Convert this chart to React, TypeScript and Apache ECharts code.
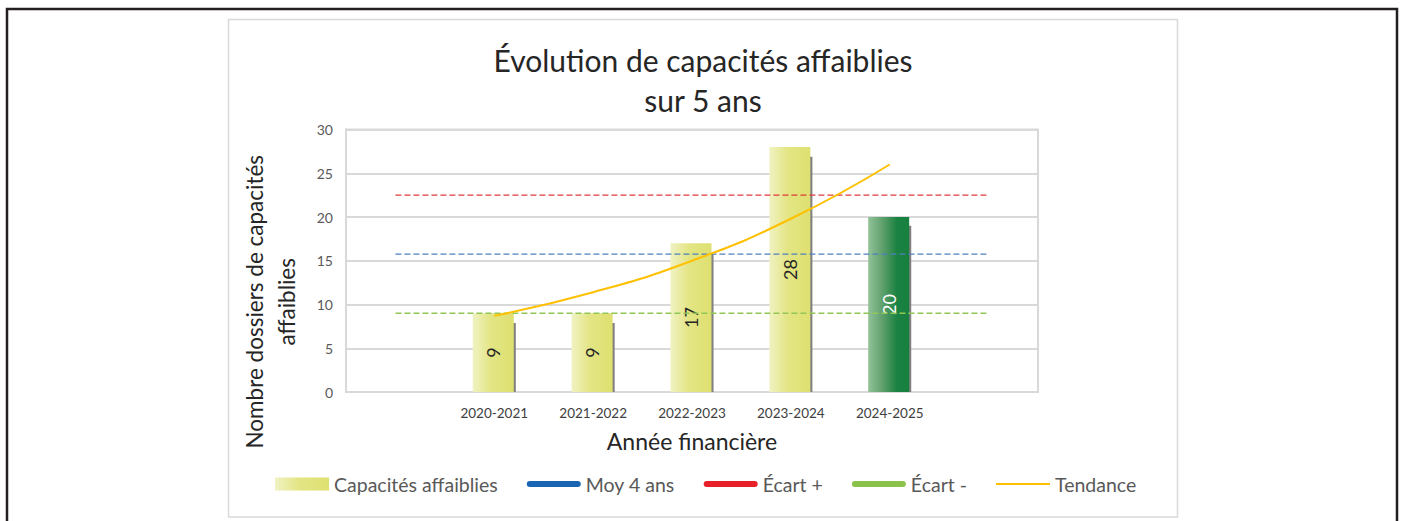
import React, { useEffect, useRef } from 'react';
import * as echarts from 'echarts';

// Categories (blank slots at both ends, as in the original Excel chart)
const categories = ['', '2020-2021', '2021-2022', '2022-2023', '2023-2024', '2024-2025', ''];
// Number of files per financial year
const capacites = [null, 9, 9, 17, 28, 20, null];
// Top of the grey drop-shadow under each bar
const ombre = [null, 7.9, 7.9, 15.9, 26.9, 19.0, null];
// Reference lines
const moy4 = [15.75, 15.75, 15.75, 15.75, 15.75, 15.75, 15.75];
const ecartPlus = [22.5, 22.5, 22.5, 22.5, 22.5, 22.5, 22.5];
const ecartMoins = [9, 9, 9, 9, 9, 9, 9];
// Exponential trend line values
const tendance = [null, 8.7, 11.4, 15.0, 19.8, 26.0, null];

const FONT = 'Lato';

const yellowGrad = () =>
  new echarts.graphic.LinearGradient(0, 0, 1, 0, [
    { offset: 0, color: '#F0F2C2' },
    { offset: 0.45, color: '#E3E584' },
    { offset: 1, color: '#DEE070' },
  ]);
const greenGrad = () =>
  new echarts.graphic.LinearGradient(0, 0, 1, 0, [
    { offset: 0, color: '#92C29A' },
    { offset: 0.35, color: '#5FA06C' },
    { offset: 0.7, color: '#1A8242' },
    { offset: 1, color: '#17803F' },
  ]);

const thickIcon = 'path://M3,0 H51 A3,3 0 0 1 51,6 H3 A3,3 0 0 1 3,0 Z';
const thinIcon = 'path://M0,0 H54 V2 H0 Z';

export default function App() {
  const ref = useRef<HTMLDivElement>(null);

  useEffect(() => {
    if (!ref.current) return;
    const chart = echarts.init(ref.current, null, { renderer: 'svg' });
    const highlightIndex = 5;

    chart.setOption({
      animation: false,
      backgroundColor: '#ffffff',
      textStyle: { fontFamily: FONT },
      title: {
        text: 'Évolution de capacités affaiblies\nsur 5 ans',
        left: 703,
        textAlign: 'center',
        top: 40,
        padding: 0,
        textStyle: {
          fontFamily: FONT,
          fontSize: 30,
          fontWeight: 'normal',
          color: '#262626',
          lineHeight: 40,
        },
      },
      graphic: [
        {
          type: 'rect',
          z: -10,
          silent: true,
          shape: { x: 7, y: 9, width: 1390, height: 600 },
          style: { fill: 'none', stroke: '#231F20', lineWidth: 2.5 },
        },
        {
          type: 'rect',
          z: -10,
          silent: true,
          shape: { x: 228.5, y: 19.5, width: 949, height: 497.5 },
          style: { fill: 'none', stroke: '#D9D9D9', lineWidth: 1.5 },
        },
      ],
      legend: {
        left: 275,
        top: 474,
        padding: 0,
        itemWidth: 54,
        itemHeight: 13,
        itemGap: 29,
        symbolKeepAspect: true,
        itemStyle: { borderWidth: 0 },
        textStyle: { fontFamily: FONT, fontSize: 19.5, color: '#595959' },
        data: [
          { name: 'Capacités affaiblies', icon: 'rect' },
          { name: 'Moy 4 ans', icon: thickIcon, itemStyle: { color: '#1A64B4', borderWidth: 0 } },
          { name: 'Écart +', icon: thickIcon, itemStyle: { color: '#E8202A', borderWidth: 0 } },
          { name: 'Écart -', icon: thickIcon, itemStyle: { color: '#8BC34A', borderWidth: 0 } },
          { name: 'Tendance', icon: thinIcon, itemStyle: { color: '#FFC000', borderWidth: 0 } },
        ],
      },
      grid: {
        left: 346,
        right: 363,
        top: 129.5,
        bottom: 129,
        show: true,
        borderColor: '#D9D9D9',
        borderWidth: 2,
        containLabel: false,
      },
      xAxis: {
        type: 'category',
        data: categories,
        boundaryGap: true,
        axisTick: { show: false },
        axisLine: { lineStyle: { color: '#D9D9D9', width: 2 } },
        axisLabel: { fontFamily: FONT, fontSize: 13.5, color: '#404040', margin: 14, interval: 0 },
        name: 'Année financière',
        nameLocation: 'middle',
        nameGap: 37,
        nameTextStyle: { fontFamily: FONT, fontSize: 23, color: '#262626' },
      },
      yAxis: {
        type: 'value',
        min: 0,
        max: 30,
        interval: 5,
        axisLine: { show: true, lineStyle: { color: '#D9D9D9', width: 2 } },
        axisTick: { show: false },
        axisLabel: { fontFamily: FONT, fontSize: 14, color: '#595959', margin: 13 },
        splitLine: { lineStyle: { color: '#D9D9D9', width: 2 } },
        name: 'Nombre dossiers de capacités\naffaiblies',
        nameLocation: 'middle',
        nameGap: 44,
        nameTextStyle: {
          fontFamily: FONT,
          fontSize: 22.5,
          color: '#262626',
          lineHeight: 32,
          padding: [0, 82, 0, 0],
        },
      },
      series: [
        {
          name: 'Capacités affaiblies',
          type: 'bar',
          barWidth: 41,
          barGap: '-95%',
          z: 3,
          itemStyle: { color: yellowGrad() },
          label: {
            show: true,
            position: 'inside',
            rotate: 90,
            fontFamily: FONT,
            fontSize: 18,
            color: '#262626',
          },
          data: capacites.map((v, i) =>
            i === highlightIndex
              ? { value: v, itemStyle: { color: greenGrad() }, label: { color: '#ffffff' } }
              : v
          ),
        },
        {
          name: 'ombre',
          type: 'bar',
          barWidth: 41,
          barGap: '-95%',
          z: 2,
          silent: true,
          itemStyle: { color: '#808080' },
          data: ombre,
        },
        {
          name: 'Moy 4 ans',
          type: 'line',
          z: 4,
          symbol: 'none',
          color: '#4F7FBF',
          lineStyle: { color: '#4F7FBF', width: 1.3, type: [6, 3] },
          data: moy4,
        },
        {
          name: 'Écart +',
          type: 'line',
          z: 4,
          symbol: 'none',
          color: '#E03A3A',
          lineStyle: { color: '#E03A3A', width: 1.3, type: [6, 3] },
          data: ecartPlus,
        },
        {
          name: 'Écart -',
          type: 'line',
          z: 4,
          symbol: 'none',
          color: '#92C757',
          lineStyle: { color: '#92C757', width: 1.3, type: [6, 3] },
          data: ecartMoins,
        },
        {
          name: 'Tendance',
          type: 'line',
          z: 5,
          symbol: 'none',
          smooth: true,
          color: '#FFC000',
          lineStyle: { color: '#FFC000', width: 2 },
          data: tendance,
        },
      ],
    });

    return () => chart.dispose();
  }, []);

  return (
    <div
      ref={ref}
      style={{ position: 'fixed', left: 0, top: 0, width: 1401, height: 521, background: '#fff' }}
    />
  );
}
